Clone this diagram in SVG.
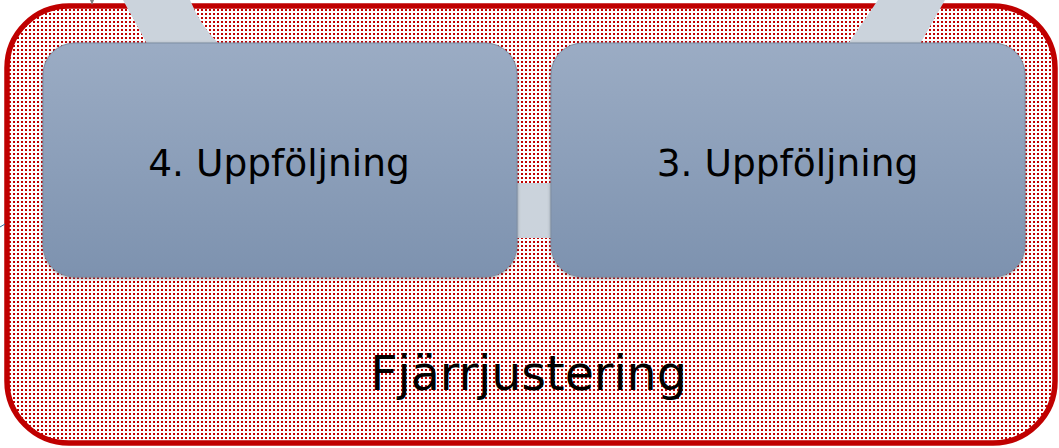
<svg xmlns="http://www.w3.org/2000/svg" width="1059" height="448" viewBox="0 0 1059 448">
<defs>
<pattern id="dots" x="0" y="0" width="4" height="4" patternUnits="userSpaceOnUse">
<rect width="4" height="4" fill="#ffffff"/>
<rect x="1" y="1" width="2" height="2" fill="#C00000"/>
</pattern>
<linearGradient id="nodeGrad" x1="0" y1="0" x2="0" y2="1">
<stop offset="0" stop-color="#9BACC4"/>
<stop offset="1" stop-color="#7D92AF"/>
</linearGradient>
<filter id="soft" x="-5%" y="-5%" width="110%" height="110%">
<feGaussianBlur in="SourceAlpha" stdDeviation="1.5"/>
<feOffset dx="0" dy="1" result="b"/>
<feFlood flood-color="#4a5566" flood-opacity="0.6"/>
<feComposite in2="b" operator="in"/>
<feMerge><feMergeNode/><feMergeNode in="SourceGraphic"/></feMerge>
</filter>
<style>
.node{fill:url(#nodeGrad);stroke:#7f8ea3;stroke-width:1;filter:url(#soft)}
.lbl{font-family:"DejaVu Sans",Verdana,sans-serif;font-size:37.5px;fill:#000;text-anchor:middle}
.conn{fill:#CBD3DC;stroke:none}
</style>
</defs>
<g id="container">
<rect x="7" y="6" width="1048" height="437" rx="62" ry="62" fill="url(#dots)" stroke="#C00000" stroke-width="5.5"/>
<text x="528.5" y="390" font-family="DejaVu Sans, Verdana, sans-serif" font-size="47.5" text-anchor="middle" fill="#000">Fjärrjustering</text>
</g>
<g id="connectors">
<path class="conn" d="M123,0 L190,0 Q200,25 219,44 L147,44 Z"/>
<path class="conn" d="M878,0 L945,0 L920,44 L848,44 Z"/>
<rect class="conn" x="514" y="183" width="40" height="55"/>
<path d="M90,0 L94,0 L92,5 Z" fill="#808080"/>
<path d="M0,227 L5,224" stroke="#3070a0" stroke-width="1"/>
</g>
<g id="node4">
<rect class="node" x="43" y="43" width="474" height="234" rx="32" ry="32"/>
<text class="lbl" x="279" y="176">4. Uppföljning</text>
</g>
<g id="node3">
<rect class="node" x="551" y="43" width="474" height="234" rx="32" ry="32"/>
<text class="lbl" x="787.5" y="176">3. Uppföljning</text>
</g>
</svg>
